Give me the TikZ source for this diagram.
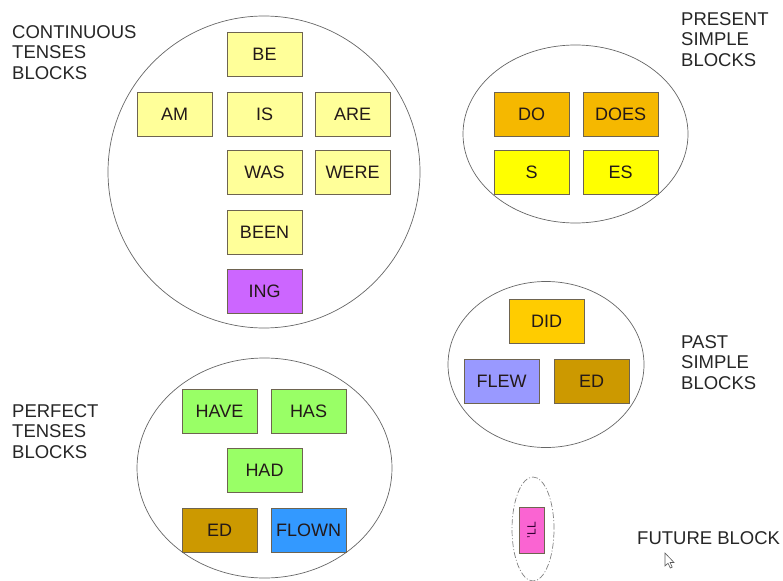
\documentclass[tikz,border=0pt]{standalone}
\usepackage{fontspec}
\setmainfont{Liberation Sans}
\usetikzlibrary{shapes.geometric}
\definecolor{paleY}{RGB}{255,255,153}
\definecolor{orangeY}{RGB}{245,184,0}
\definecolor{brightY}{RGB}{255,255,0}
\definecolor{gold}{RGB}{255,204,0}
\definecolor{lav}{RGB}{153,153,255}
\definecolor{ochre}{RGB}{204,153,0}
\definecolor{lgreen}{RGB}{153,255,102}
\definecolor{fblue}{RGB}{51,153,255}
\definecolor{violetb}{RGB}{204,102,255}
\definecolor{pinkb}{RGB}{250,100,210}
\definecolor{txt}{RGB}{35,25,25}
\definecolor{bord}{RGB}{110,100,80}
\begin{document}
\begin{tikzpicture}[x=1pt,y=-1pt,
  blk/.style={draw=bord, line width=0.9pt, minimum width=75pt, minimum height=44pt, inner sep=0pt,
    font=\fontsize{18}{20}\selectfont, text=txt},
  grp/.style={ellipse, draw=gray!80!black, line width=0.7pt, inner sep=0pt},
  lbl/.style={anchor=north west, align=left, inner sep=0pt, text=black!85,
    font=\fontsize{18.5}{20.7}\selectfont}]
\useasboundingbox (0,0) rectangle (783,580);
% groups
\node[grp, minimum width=312pt, minimum height=312pt] (gcont) at (264,172) {};
\node[grp, minimum width=225pt, minimum height=178pt] (gpres) at (575.5,134) {};
\node[grp, minimum width=196pt, minimum height=166pt] (gpast) at (546,364.5) {};
\node[grp, minimum width=255pt, minimum height=220pt] (gperf) at (264.5,468) {};
\node[grp, dash pattern=on 6pt off 2pt on 1pt off 2pt, draw=gray, minimum width=42pt, minimum height=104pt] (gfut) at (533,529) {};
% continuous
\node[blk, fill=paleY] (be) at (264.5,54) {BE};
\node[blk, fill=paleY] (am) at (174.5,114) {AM};
\node[blk, fill=paleY] (is) at (264.5,114) {IS};
\node[blk, fill=paleY] (are) at (352.5,114) {ARE};
\node[blk, fill=paleY] (was) at (264.5,172.5) {WAS};
\node[blk, fill=paleY] (were) at (352.5,172.5) {WERE};
\node[blk, fill=paleY] (been) at (264.5,232.5) {BEEN};
\node[blk, fill=violetb] (ing) at (264.5,291.5) {ING};
% present
\node[blk, fill=orangeY] (do) at (531.5,114) {DO};
\node[blk, fill=orangeY] (does) at (620.5,114) {DOES};
\node[blk, fill=brightY] (s) at (531.5,172.5) {S};
\node[blk, fill=brightY] (es) at (620.5,172.5) {ES};
% past
\node[blk, fill=gold] (did) at (546.5,321) {DID};
\node[blk, fill=lav] (flew) at (501.5,381) {FLEW};
\node[blk, fill=ochre] (edp) at (591.5,381) {ED};
% perfect
\node[blk, fill=lgreen] (have) at (219.5,411) {HAVE};
\node[blk, fill=lgreen] (has) at (308.5,411) {HAS};
\node[blk, fill=lgreen] (had) at (264.5,470) {HAD};
\node[blk, fill=ochre] (edf) at (219.5,530) {ED};
\node[blk, fill=fblue] (flown) at (308.5,530) {FLOWN};
% future
\node[draw=bord, line width=0.8pt, fill=pinkb, minimum width=25pt, minimum height=46pt, inner sep=0pt] (ll) at (531.5,530) {};
\node[rotate=90, inner sep=0pt, text=violet!40!black, font=\fontsize{12}{12}\selectfont] (lltxt) at (ll.center) {'LL};
% labels
\node[lbl] (lcont) at (12,25) {CONTINUOUS\\TENSES\\BLOCKS};
\node[lbl] (lpres) at (681,12) {PRESENT\\SIMPLE\\BLOCKS};
\node[lbl] (lpast) at (681,335) {PAST\\SIMPLE\\BLOCKS};
\node[lbl] (lperf) at (12,404) {PERFECT\\TENSES\\BLOCKS};
\node[lbl] (lfut) at (637,531) {FUTURE BLOCK};
% mouse cursor
\draw[gray!70!black, line width=0.6pt, fill=white] (665,553) -- (665,566) -- (668,563.2) -- (670.3,568) -- (672.2,567.1) -- (670,562.5) -- (674,562.5) -- cycle;
\end{tikzpicture}
\end{document}
